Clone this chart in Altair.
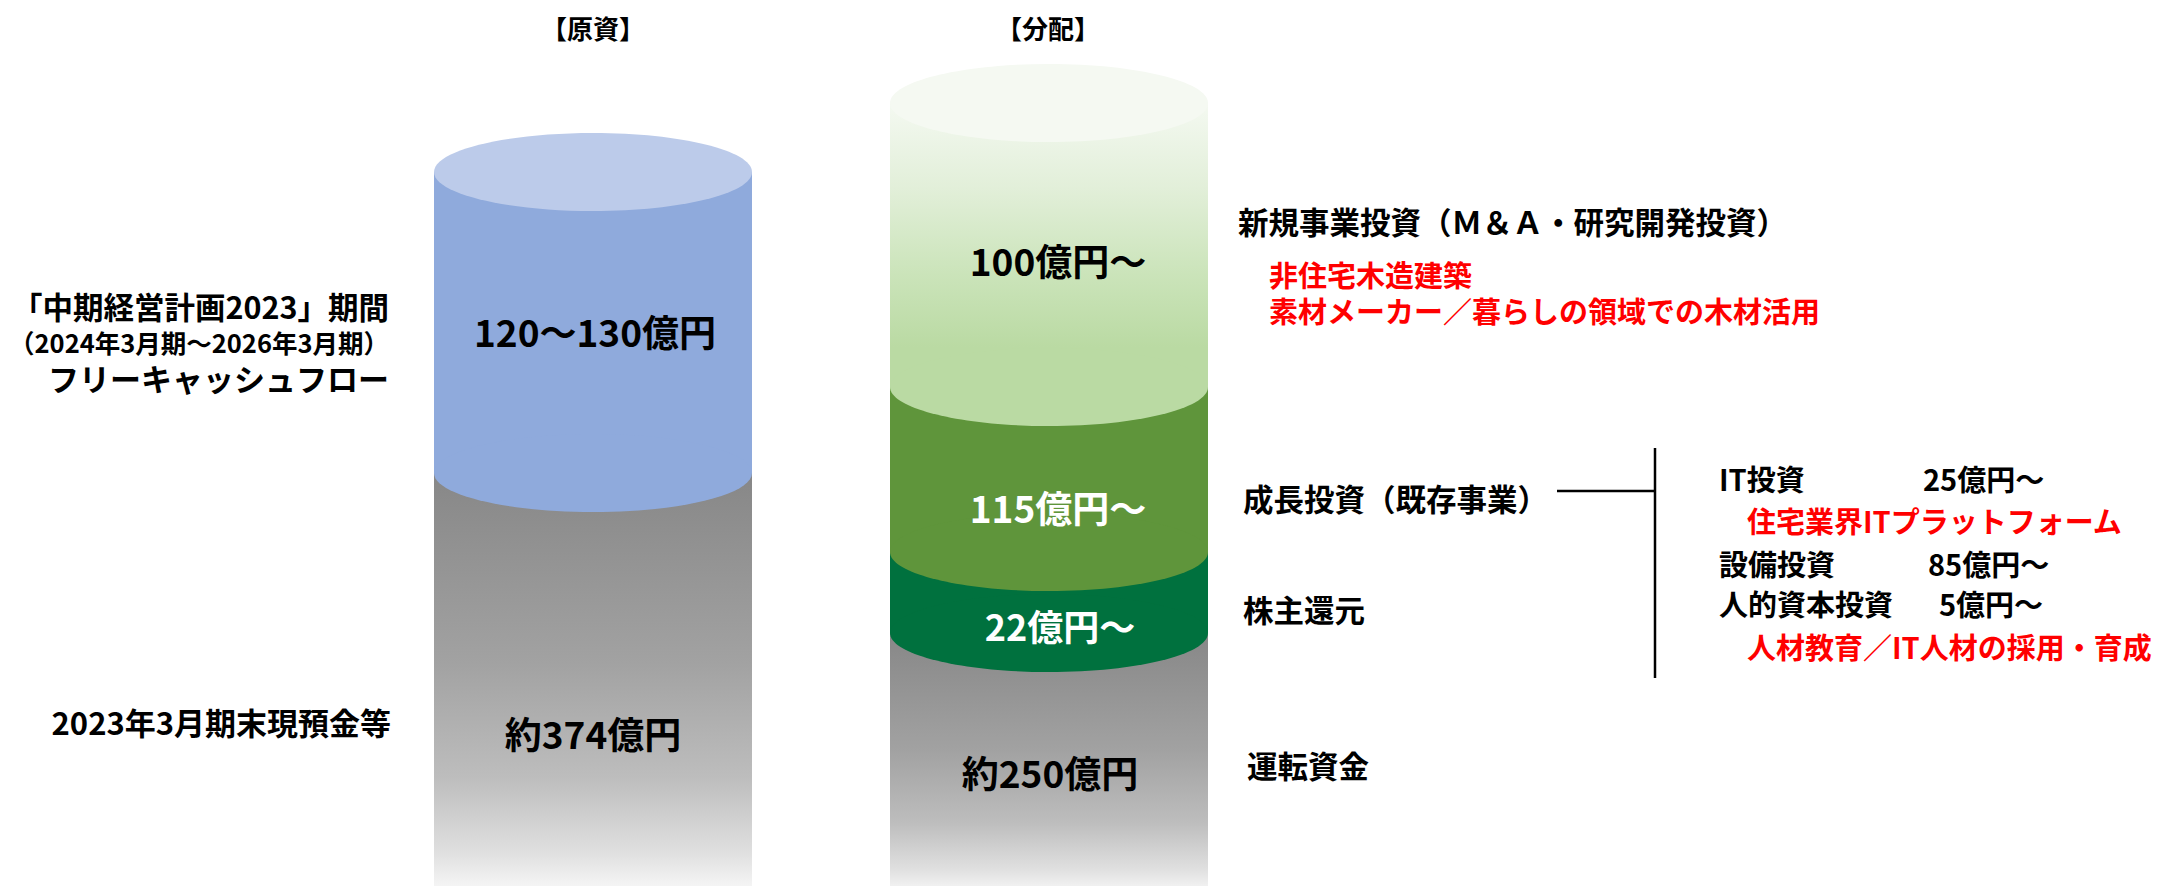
import altair as alt
import pandas as pd

# ---------------- data ----------------
column_titles = ["【原資】", "【分配】"]

source_labels = ["「中期経営計画2023」期間", "（2024年3月期～2026年3月期）", "フリーキャッシュフロー",
                 "2023年3月期末現預金等"]
source_amounts = ["120～130億円", "約374億円"]

alloc_labels = ["新規事業投資（Ｍ＆Ａ・研究開発投資）", "成長投資（既存事業）", "株主還元", "運転資金"]
alloc_amounts = ["100億円～", "115億円～", "22億円～", "約250億円"]
new_biz_notes = ["非住宅木造建築", "素材メーカー／暮らしの領域での木材活用"]

growth_items = ["IT投資", "設備投資", "人的資本投資"]
growth_amounts = ["25億円～", "85億円～", "5億円～"]
growth_notes = ["住宅業界ITプラットフォーム", "人材教育／IT人材の採用・育成"]

# ---------------- layout / style ----------------
FONT = "Noto Sans CJK JP"
W, H, M = 2144, 878, 8
xs = alt.Scale(domain=[M, M + W])
ys = alt.Scale(domain=[M, M + H], reverse=True)

CX = [593, 1049]          # cylinder centres
RX, RY = 159, 39          # cylinder radius / ellipse half-height

# segment boundaries (schematic, not proportional)
seg_cyl = [0, 0, 1, 1, 1, 1]
seg_top = [172, 473, 103, 387, 552, 633]
seg_bot = [473, 896, 387, 552, 633, 896]
seg_fill = ["#8faadc", "gray", "light", "#5f953b", "#00713e", "gray"]

seg = pd.DataFrame({"cyl": seg_cyl, "top": seg_top, "bot": seg_bot, "fill": seg_fill})
seg["x"] = [CX[c] - RX for c in seg["cyl"]]
seg["x2"] = [CX[c] + RX for c in seg["cyl"]]

gray_grad = alt.Gradient(
    gradient="linear", x1=0, x2=0, y1=0, y2=1,
    stops=[alt.GradientStop(offset=0, color="#878787"),
           alt.GradientStop(offset=0.45, color="#a2a2a2"),
           alt.GradientStop(offset=0.72, color="#bdbdbd"),
           alt.GradientStop(offset=0.9, color="#e0e0e0"),
           alt.GradientStop(offset=1, color="#fbfbfb")])
light_grad = alt.Gradient(
    gradient="linear", x1=0, x2=0, y1=0, y2=1,
    stops=[alt.GradientStop(offset=0, color="#f4f9f1"),
           alt.GradientStop(offset=0.3, color="#e2efd9"),
           alt.GradientStop(offset=0.6, color="#cbe4ba"),
           alt.GradientStop(offset=0.86, color="#badaa3"),
           alt.GradientStop(offset=1, color="#badaa3")])

X = lambda f, **k: alt.X(f, scale=xs, axis=None, **k)
Y = lambda f, **k: alt.Y(f, scale=ys, axis=None, **k)


def rects(df, fill=None):
    m = alt.Chart(df).mark_rect(strokeWidth=0, **({"color": fill} if fill is not None else {}))
    enc = dict(x=X("x:Q"), x2="x2:Q", y=Y("top:Q"), y2="bot:Q")
    if fill is None:
        enc["color"] = alt.Color("fill:N", scale=None, legend=None)
    return m.encode(**enc)


gray_layer = rects(seg[seg["fill"] == "gray"], gray_grad)
light_layer = rects(seg[seg["fill"] == "light"], light_grad)
solid_layer = rects(seg[~seg["fill"].isin(["gray", "light"])])

# ellipses: cylinder tops and the rounded bottoms of the upper segments
k, e = 0.5523, RY / RX
ELLIPSE = (f"M-1,0 C-1,{-k*e:.4f} {-k},{-e:.4f} 0,{-e:.4f} "
           f"C{k},{-e:.4f} 1,{-k*e:.4f} 1,0 "
           f"C1,{k*e:.4f} {k},{e:.4f} 0,{e:.4f} "
           f"C{-k},{e:.4f} -1,{k*e:.4f} -1,0 Z")
ell = pd.DataFrame({
    "x": [CX[0], CX[0], CX[1], CX[1], CX[1], CX[1]],
    "y": [seg_top[0], seg_bot[0], seg_top[2], seg_bot[2], seg_bot[3], seg_bot[4]],
    "fill": ["#bccbea", "#8faadc", "#f5f9f2", "#badaa3", "#5f953b", "#00713e"],
})
ell_layer = alt.Chart(ell).mark_point(
    shape=ELLIPSE, size=(2 * RX) ** 2, filled=True, opacity=1, strokeWidth=0
).encode(x=X("x:Q"), y=Y("y:Q"), color=alt.Color("fill:N", scale=None, legend=None))

# connector lines
rules = pd.DataFrame({"x": [1557, 1655], "x2": [1655, 1655], "y": [491, 448], "y2": [491, 678]})
rule_layer = alt.Chart(rules).mark_rule(color="black", strokeWidth=2.5).encode(
    x=X("x:Q"), x2="x2:Q", y=Y("y:Q"), y2="y2:Q")

# text placements
BLK, RED, WHT = "#000000", "#ff0000", "#ffffff"
texts = []
def add(t, x, y, size, color, align):
    texts.append({"text": t, "x": x, "y": y, "size": size, "color": color, "align": align})

add(column_titles[0], 593, 31, 26, BLK, "center")
add(column_titles[1], 1048, 31, 26, BLK, "center")
add(source_amounts[0], 595, 336, 37, BLK, "center")
add(source_amounts[1], 593, 738, 37, BLK, "center")
add(alloc_amounts[0], 1058, 265, 37, BLK, "center")
add(alloc_amounts[1], 1058, 512, 37, WHT, "center")
add(alloc_amounts[2], 1060, 630, 36, WHT, "center")
add(alloc_amounts[3], 1050, 777, 37, BLK, "center")

add(source_labels[0], 389, 310, 30.5, BLK, "right")
add(source_labels[1], 389, 345, 25.5, BLK, "right")
add(source_labels[2], 389, 382, 31, BLK, "right")
add(source_labels[3], 391, 726, 31, BLK, "right")

add(alloc_labels[0], 1238, 225, 30.5, BLK, "left")
add(new_biz_notes[0], 1269, 278, 29, RED, "left")
add(new_biz_notes[1], 1269, 314, 29, RED, "left")
add(alloc_labels[1], 1243, 502, 30.5, BLK, "left")
add(alloc_labels[2], 1243, 613, 30.5, BLK, "left")
add(alloc_labels[3], 1247, 769, 30.5, BLK, "left")

add(growth_items[0], 1719, 482, 29, BLK, "left")
add(growth_amounts[0], 1923, 482, 29, BLK, "left")
add(growth_notes[0], 1747, 524, 29, RED, "left")
add(growth_items[1], 1719, 567, 29, BLK, "left")
add(growth_amounts[1], 1928, 567, 29, BLK, "left")
add(growth_items[2], 1719, 607, 29, BLK, "left")
add(growth_amounts[2], 1939, 607, 29, BLK, "left")
add(growth_notes[1], 1747, 650, 29, RED, "left")

tdf = pd.DataFrame(texts)


def text_layer(align):
    return alt.Chart(tdf[tdf["align"] == align]).mark_text(
        font=FONT, fontWeight="bold", baseline="middle", align=align
    ).encode(
        x=X("x:Q"), y=Y("y:Q"), text="text:N",
        size=alt.Size("size:Q", scale=None, legend=None),
        color=alt.Color("color:N", scale=None, legend=None),
    )


chart = alt.layer(
    gray_layer, solid_layer, light_layer, ell_layer, rule_layer,
    text_layer("center"), text_layer("left"), text_layer("right"),
).properties(
    width=W, height=H, padding=0, background="white",
    autosize=alt.AutoSizeParams(type="none"),
).configure_view(stroke=None)

chart.save("out.html", embed_options={"renderer": "svg", "actions": False})
